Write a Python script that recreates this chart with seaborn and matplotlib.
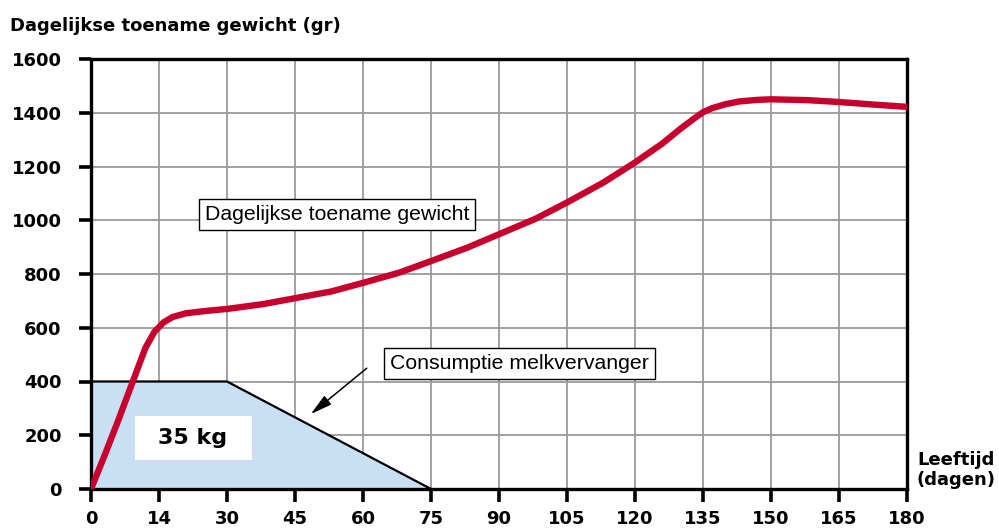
import matplotlib
matplotlib.use("Agg")
import matplotlib.pyplot as plt
import seaborn as sns
import pandas as pd
from matplotlib.patches import Polygon, Rectangle

# Data (x positions on evenly spaced axis; 2nd tick labelled "14")
days = [0, 3, 6, 9, 12, 14, 16, 18, 21, 25, 30, 38, 45, 53, 60, 68, 75, 83, 90, 98, 105, 113, 120, 126, 130, 133, 135, 137, 140, 143, 147, 150, 158, 165, 173, 180]
gain = [0, 125, 255, 390, 525, 585, 620, 640, 654, 662, 670, 688, 710, 735, 767, 805, 848, 898, 948, 1005, 1066, 1140, 1215, 1285, 1340, 1378, 1402, 1417, 1432, 1442, 1448, 1450, 1447, 1440, 1430, 1422]

milk_x = [0, 0, 30, 75]
milk_y = [0, 400, 400, 0]

xtick_pos = [0, 15, 30, 45, 60, 75, 90, 105, 120, 135, 150, 165, 180]
xtick_lab = ["0", "14", "30", "45", "60", "75", "90", "105", "120", "135", "150", "165", "180"]
ytick_pos = [0, 200, 400, 600, 800, 1000, 1200, 1400, 1600]

sns.set_theme(style="white")
plt.rcParams['font.family'] = ['Liberation Sans', 'DejaVu Sans']
plt.rcParams['text.color'] = 'black'
plt.rcParams['xtick.color'] = 'black'
plt.rcParams['ytick.color'] = 'black'
BOLD = ['DejaVu Sans']

fig = plt.figure(figsize=(9.99, 5.31), dpi=100)
ax = fig.add_axes([91/999, 1-489/531, (907-91)/999, (489-59)/531])

ax.set_xlim(0, 180)
ax.set_ylim(0, 1600)

ax.set_xticks(xtick_pos)
ax.set_xticklabels(xtick_lab)
ax.set_yticks(ytick_pos)
ax.grid(True, color="#9a9a9a", linewidth=1.3, zorder=0)
ax.set_axisbelow(True)

# milk replacer area
poly = Polygon(list(zip(milk_x, milk_y)), closed=True, facecolor="#c9dff3", edgecolor="none", zorder=1)
ax.add_patch(poly)
ax.plot(milk_x[1:], milk_y[1:], color="black", linewidth=1.6, zorder=2)

ax.add_patch(Rectangle((9.7, 108), 25.8, 164, facecolor="white", edgecolor="none", zorder=2.5))
ax.text(22.4, 188, "35 kg", fontsize=16, fontweight="bold", family=BOLD, ha="center", va="center",
        zorder=3, color="black")

# growth curve
df = pd.DataFrame({"dag": days, "gain": gain})
sns.lineplot(data=df, x="dag", y="gain", ax=ax, color="#c8002d", linewidth=4.6, zorder=4, sort=False)
ax.set_xlabel("")
ax.set_ylabel("")

# annotations
ax.text(54.3, 1023, "Dagelijkse toename gewicht", fontsize=15.3, ha="center", va="center", zorder=5,
        color="black",
        bbox=dict(boxstyle="square,pad=0.28", facecolor="white", edgecolor="black", linewidth=1))
ax.text(94.6, 468, "Consumptie melkvervanger", fontsize=15.3, ha="center", va="center", zorder=5,
        color="black",
        bbox=dict(boxstyle="square,pad=0.28", facecolor="white", edgecolor="black", linewidth=1))
ax.annotate("", xy=(48.0, 272), xytext=(61.3, 456),
            arrowprops=dict(arrowstyle="-|>,head_length=1.1,head_width=0.28", color="black", linewidth=1.1),
            zorder=5)

for s in ax.spines.values():
    s.set_color("black")
    s.set_linewidth(2.4)
    s.set_visible(True)

ax.tick_params(axis="both", which="major", direction="out", length=9, width=2.6, color="black",
               labelsize=13, bottom=True, left=True, labelcolor="black")
for lab in ax.get_xticklabels() + ax.get_yticklabels():
    lab.set_fontweight("bold")
    lab.set_family(BOLD)
ax.tick_params(axis="y", pad=12)
ax.tick_params(axis="x", pad=6)

fig.text(10/999, 1-26/531, "Dagelijkse toename gewicht (gr)", fontsize=13, fontweight="bold", family=BOLD,
         ha="left", va="center", color="black")
fig.text(995/999, 1-470/531, "Leeftijd\n(dagen)", fontsize=13, fontweight="bold", family=BOLD,
         ha="right", va="center", linespacing=1.1, color="black")

fig.savefig("out.png", dpi=100)
